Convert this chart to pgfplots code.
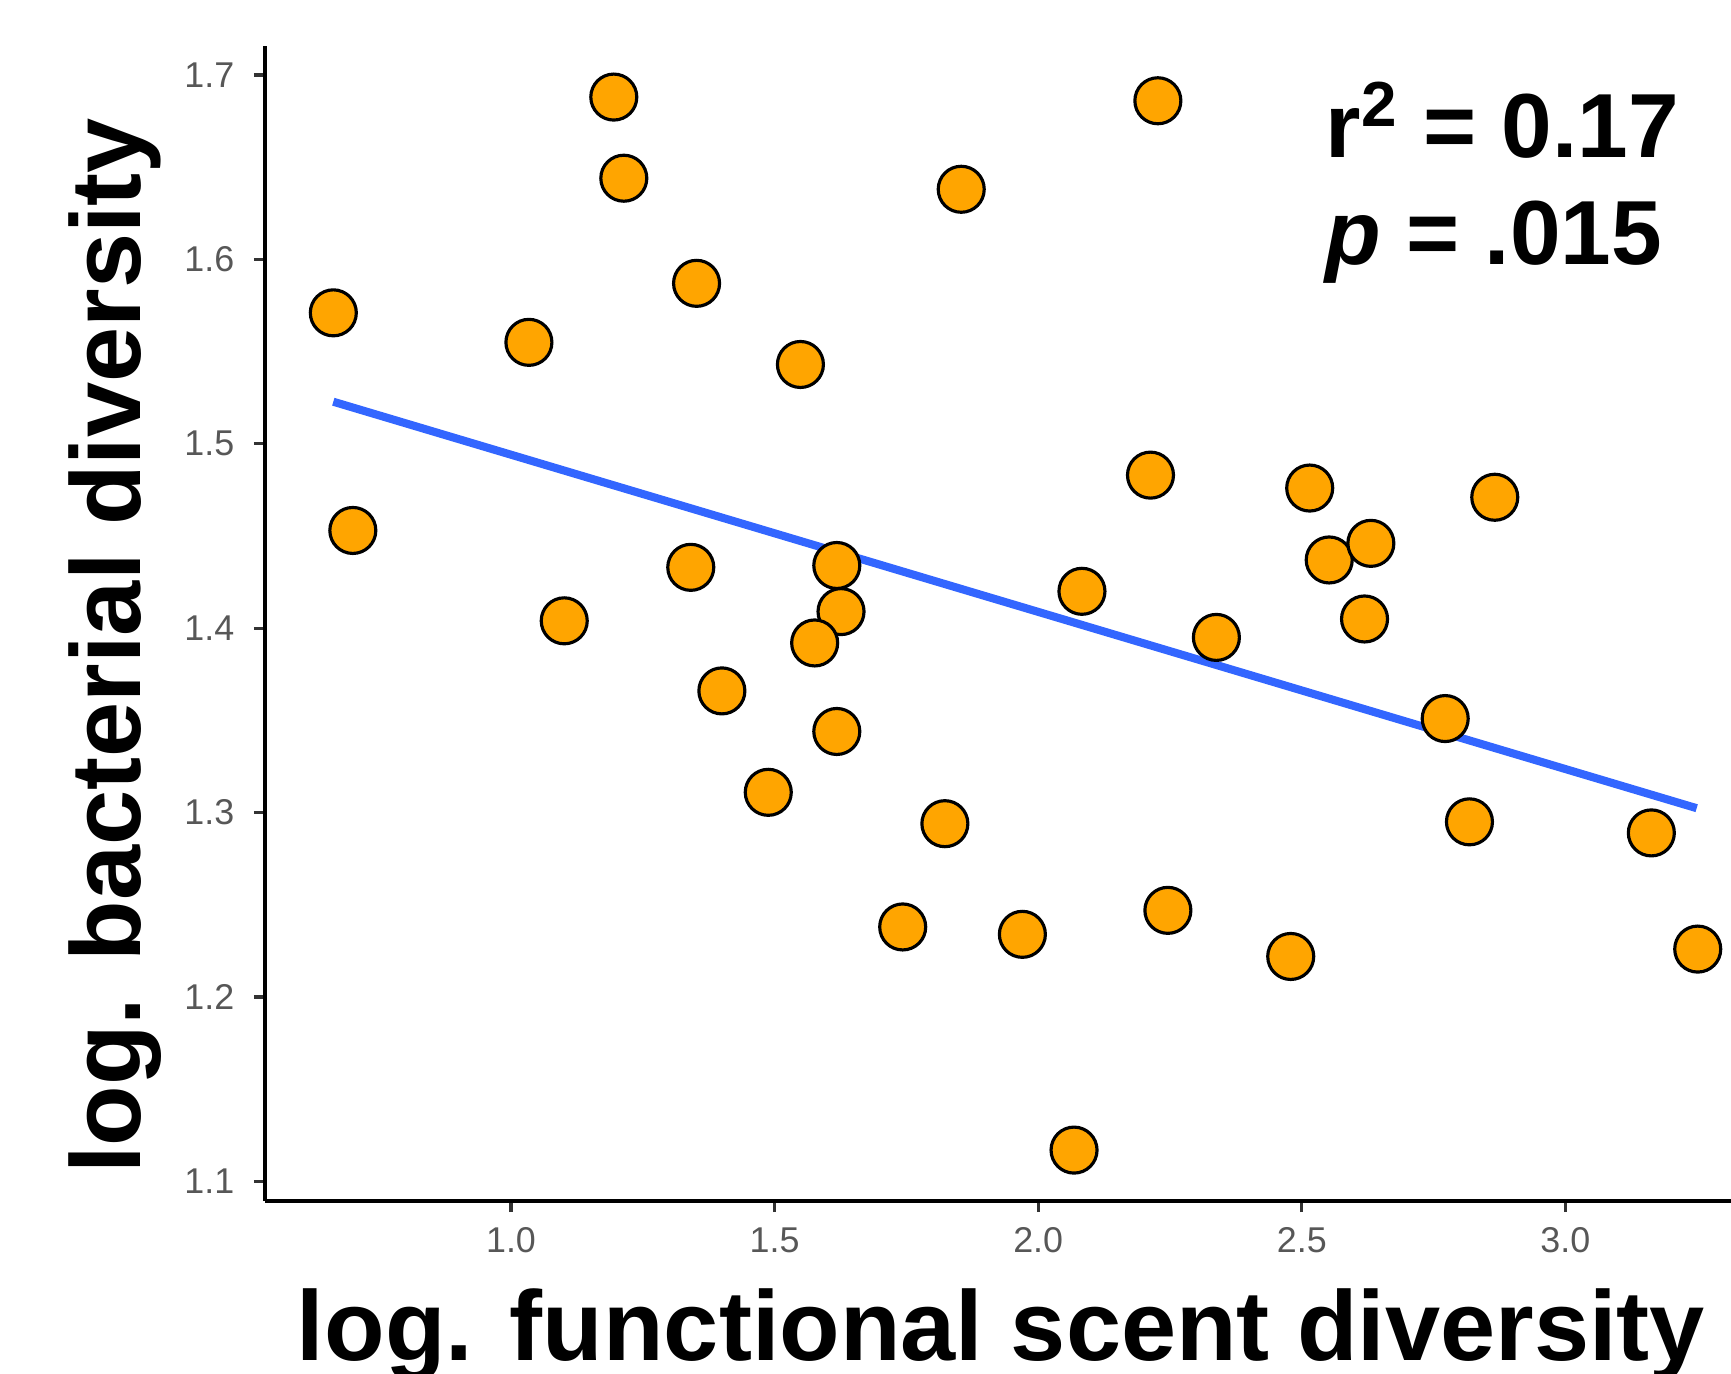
\documentclass[border=0pt]{standalone}
\usepackage{fontspec}
\setmainfont{Liberation Sans}
\usepackage{pgfplots}
\pgfplotsset{compat=1.18}
\usepackage{pgfplotstable}
\definecolor{ptfill}{HTML}{FFA500}
\definecolor{fitblue}{HTML}{3366FF}
\definecolor{ticklab}{HTML}{575757}
\definecolor{tickcol}{HTML}{333333}

\pgfplotstableread{
x y
0.663 1.571
0.700 1.453
1.034 1.555
1.101 1.404
1.195 1.688
1.214 1.644
1.352 1.587
1.341 1.433
1.400 1.366
1.488 1.311
1.549 1.543
1.618 1.434
1.626 1.409
1.576 1.392
1.618 1.344
1.743 1.238
1.823 1.294
1.854 1.638
1.970 1.234
2.068 1.117
2.083 1.420
2.213 1.483
2.227 1.686
2.246 1.247
2.338 1.395
2.479 1.222
2.515 1.476
2.552 1.437
2.631 1.446
2.619 1.405
2.772 1.351
2.818 1.295
2.866 1.471
3.163 1.289
3.251 1.226
}\datatable

\begin{document}
\begin{tikzpicture}
\path[use as bounding box] (-26.5mm,-17.2mm) rectangle (146.6mm,120.1mm);
\begin{axis}[
  at={(0,0)}, anchor=south west,
  scale only axis, width=146.6mm, height=115.5mm,
  xmin=0.5334, xmax=3.3141, ymin=1.0894, ymax=1.7157,
  axis x line*=bottom, axis y line*=left,
  axis line style={black, line width=0.95pt},
  clip=false,
  tick align=outside,
  major tick length=1.1mm,
  tick style={tickcol, line width=0.95pt},
  xtick={1,1.5,2,2.5,3},
  xticklabels={1.0,1.5,2.0,2.5,3.0},
  ytick={1.1,1.2,1.3,1.4,1.5,1.6,1.7},
  yticklabels={1.1,1.2,1.3,1.4,1.5,1.6,1.7},
  tick label style={font=\fontsize{10.2}{12}\selectfont, text=ticklab},
  xticklabel style={inner sep=0pt, anchor=north, yshift=-1.5mm},
  yticklabel style={inner sep=0pt, anchor=east, xshift=-1.9mm},
]
\addplot[only marks, mark=*, mark size=2.3mm,
  mark options={fill=ptfill, draw=black, line width=0.9pt}]
  table[x=x, y=y]{\datatable};
\addplot[fitblue, line width=2.3pt] coordinates {(0.663,1.5228) (3.249,1.3024)};

\node[anchor=base, inner sep=0pt, font=\fontsize{28.2}{30}\selectfont\bfseries]
  at (axis description cs:0.502,-0.1377) {log. functional scent diversity};
\node[anchor=base, rotate=90, inner sep=0pt, font=\fontsize{28.2}{30}\selectfont\bfseries]
  at (axis description cs:-0.0846,0.4805) {log. bacterial diversity};

\node[anchor=base west, inner sep=0pt, font=\fontsize{25.9}{28}\selectfont\bfseries]
  at (axis cs:2.544,1.655) {r\textsuperscript{2} = 0.17};
\node[anchor=base west, inner sep=0pt, font=\fontsize{25.9}{28}\selectfont\bfseries]
  at (axis cs:2.544,1.597) {\textit{p} = .015};
\end{axis}
\end{tikzpicture}
\end{document}
